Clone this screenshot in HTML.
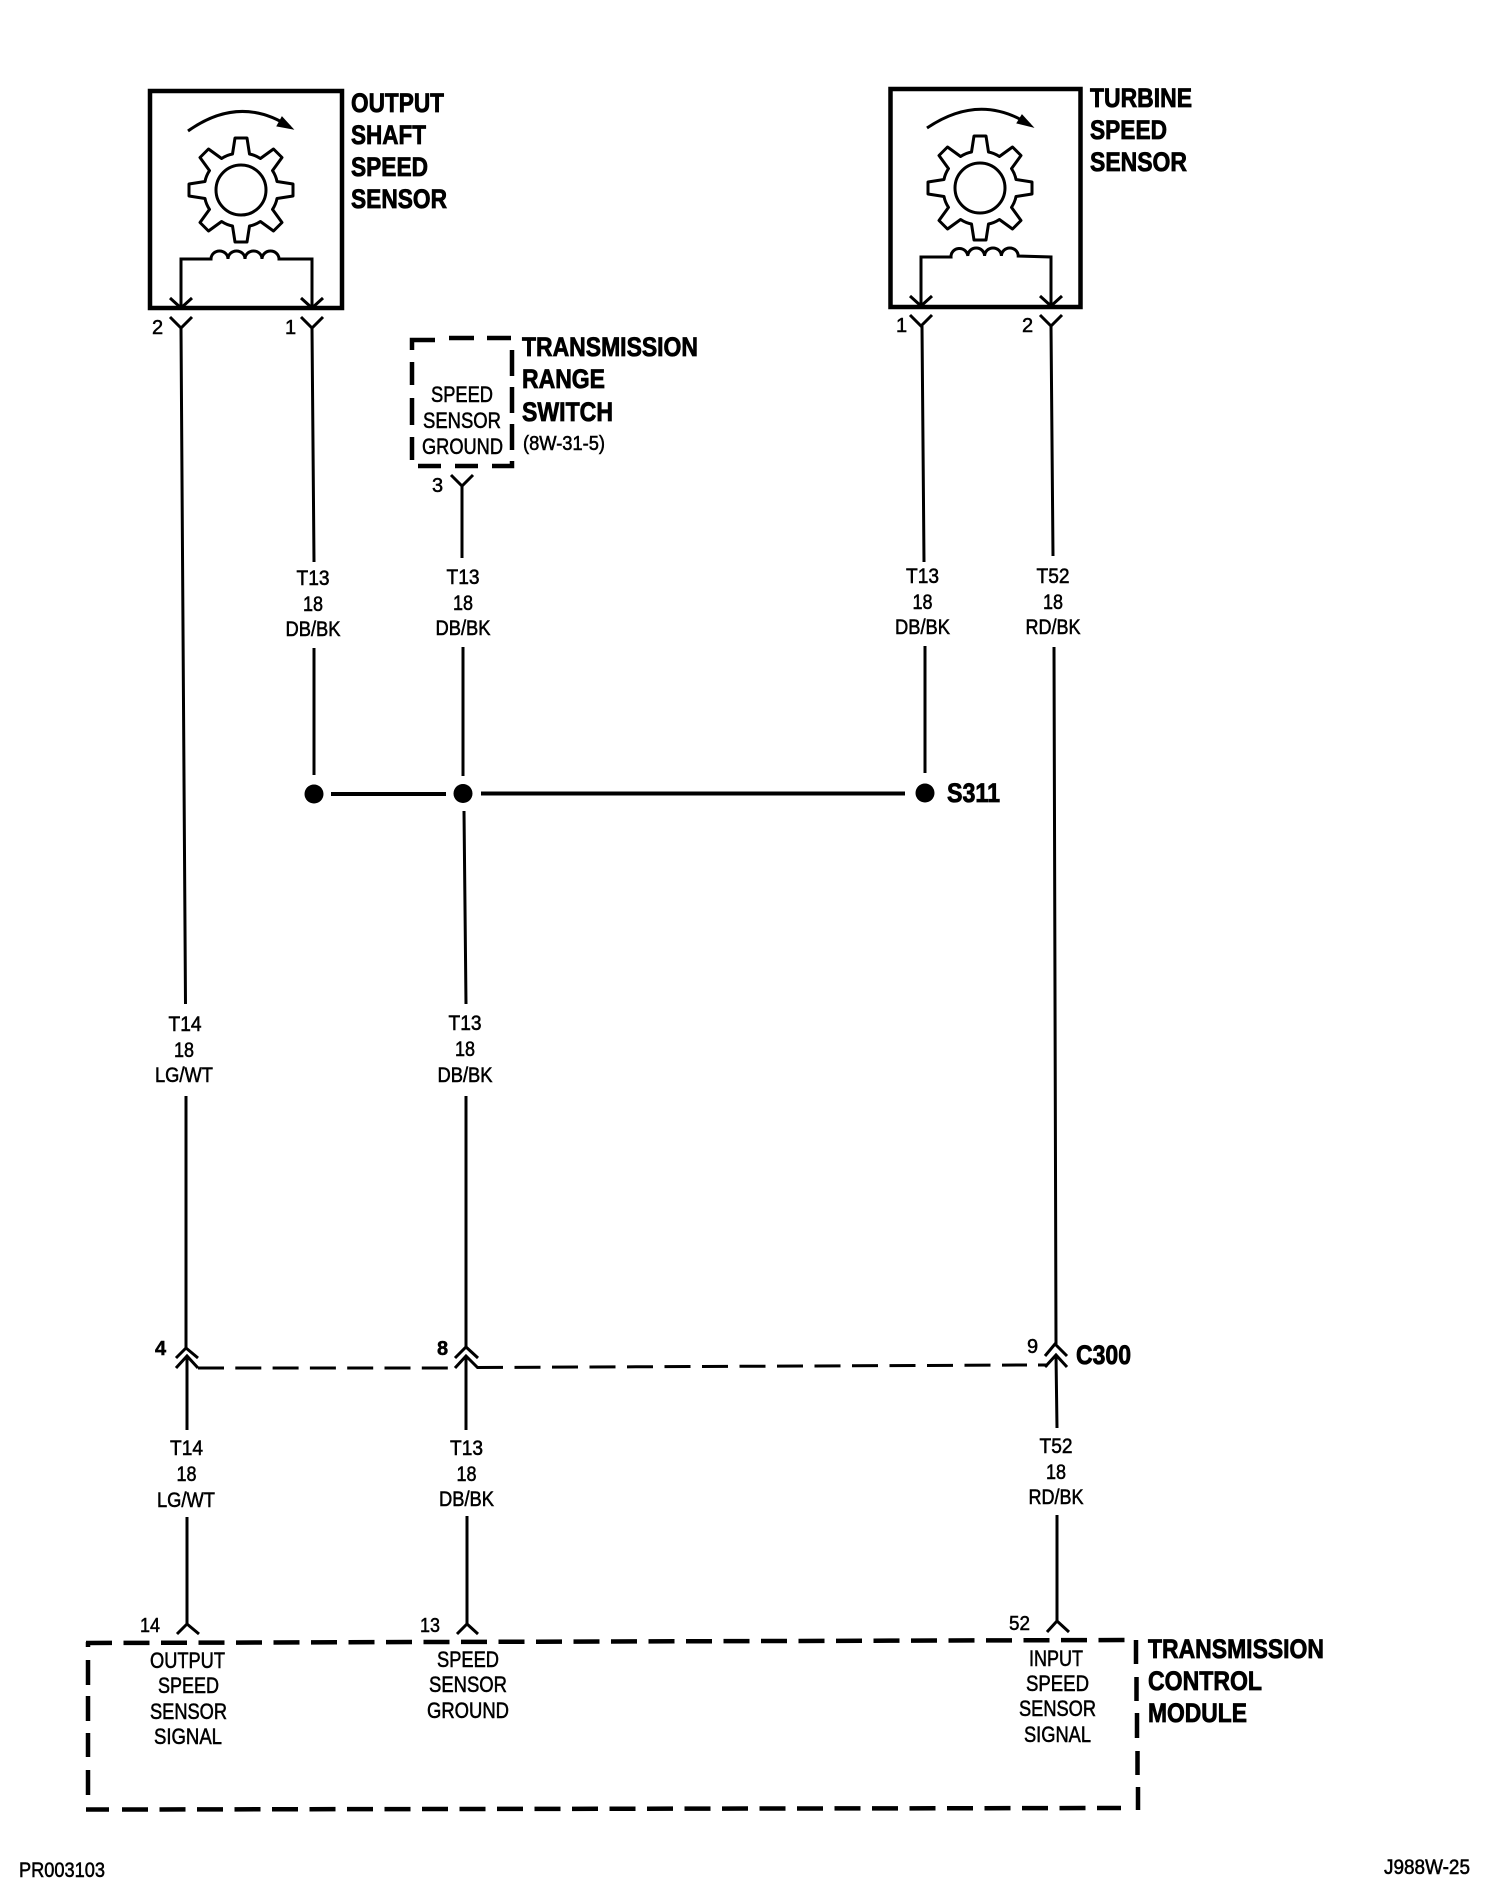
<!DOCTYPE html>
<html><head><meta charset="utf-8"><title>Speed sensor wiring</title>
<style>
html,body{margin:0;padding:0;background:#fff;width:1504px;height:1898px;overflow:hidden}
svg{display:block}
text{font-family:"Liberation Sans",sans-serif;fill:#000}
.r{font-size:22px;stroke:#000;stroke-width:.55px}
.w{font-size:21px;stroke:#000;stroke-width:.55px}
.b{font-size:27px;font-weight:bold;stroke:#000;stroke-width:.8px}
.n{font-size:20px;stroke:#000;stroke-width:.5px}
.l{fill:none;stroke:#000;stroke-width:3}
.d{fill:none;stroke:#000;stroke-width:4.5}
</style></head><body>
<svg width="1504" height="1898" viewBox="0 0 1504 1898" xmlns="http://www.w3.org/2000/svg">
<rect width="1504" height="1898" fill="#fff"/>
<defs>
<g id="gear">
<path fill="none" stroke="#000" stroke-width="3" stroke-linejoin="round" d="M-8.5,-36 L-6,-52 L6,-52 L8.5,-36 Q14,-35 19.4,-31.5 L32.5,-41 L41,-32.5 L31.5,-19.4 Q35,-14 36,-8.5 L52,-6 L52,6 L36,8.5 Q35,14 31.5,19.4 L41,32.5 L32.5,41 L19.4,31.5 Q14,35 8.5,36 L6,52 L-6,52 L-8.5,36 Q-14,35 -19.4,31.5 L-32.5,41 L-41,32.5 L-31.5,19.4 Q-35,14 -36,8.5 L-52,6 L-52,-6 L-36,-8.5 Q-35,-14 -31.5,-19.4 L-41,-32.5 L-32.5,-41 L-19.4,-31.5 Q-14,-35 -8.5,-36 Z"/>
<circle r="25" fill="none" stroke="#000" stroke-width="3"/>
</g>
</defs>

<!-- Output shaft speed sensor -->
<rect x="150" y="91" width="192" height="217" fill="none" stroke="#000" stroke-width="4.5"/>
<use href="#gear" x="241" y="190"/>
<path class="l" d="M188,131 Q240,94 290,127"/>
<path d="M293,129 L282,117 L277,126 Z" fill="#000" stroke="#000"/>
<path class="l" d="M181,308 V259 H211 a8.5,8 0 0 1 17,0 a8.5,8 0 0 1 17,0 a8.5,8 0 0 1 17,0 a8.5,8 0 0 1 17,0 H312 V308"/>
<path class="l" d="M170,298 L181,308 L192,298 M301,298 L312,308 L323,298 M170,317 L181,328 L192,317 M301,317 L312,328 L323,317"/>
<text class="n" x="152" y="334">2</text>
<text class="n" x="285" y="334">1</text>
<text class="b" x="351" y="112" textLength="93" lengthAdjust="spacingAndGlyphs">OUTPUT</text>
<text class="b" x="351" y="144" textLength="75" lengthAdjust="spacingAndGlyphs">SHAFT</text>
<text class="b" x="351" y="176" textLength="77" lengthAdjust="spacingAndGlyphs">SPEED</text>
<text class="b" x="351" y="208" textLength="96" lengthAdjust="spacingAndGlyphs">SENSOR</text>

<!-- Turbine speed sensor -->
<rect x="890.500" y="89" width="190" height="218" fill="none" stroke="#000" stroke-width="4.5"/>
<use href="#gear" x="980" y="188"/>
<path class="l" d="M927,128 Q980,92 1030,125"/>
<path d="M1033,127 L1022,115 L1017,123 Z" fill="#000" stroke="#000"/>
<path class="l" d="M921,306 V257 H951 a8.4,8 0 0 1 16.8,-1 a8.4,8 0 0 1 16.8,0 a8.4,8 0 0 1 16.8,0 a8.4,8 0 0 1 16.8,0 L1051,257 V306"/>
<path class="l" d="M910,296 L921,306 L932,296 M1040,296 L1051,306 L1062,296 M910,315 L921,326 L932,315 M1040,315 L1051,326 L1062,315"/>
<text class="n" x="896" y="332">1</text>
<text class="n" x="1022" y="332">2</text>
<text class="b" x="1090" y="107" textLength="102" lengthAdjust="spacingAndGlyphs">TURBINE</text>
<text class="b" x="1090" y="139" textLength="77" lengthAdjust="spacingAndGlyphs">SPEED</text>
<text class="b" x="1090" y="171" textLength="97" lengthAdjust="spacingAndGlyphs">SENSOR</text>

<!-- Transmission range switch -->
<path class="d" d="M412,350 V340 H435 M449,338 H474 M487,338 H511 M512,350 V376 M512,387 V413 M512,424 V450 M512,461 V466 H492 M478,466 H455 M441,466 H418 M412,362 V385 M412,398 V425 M412,437 V460"/>
<text class="r" x="431" y="402" textLength="62" lengthAdjust="spacingAndGlyphs">SPEED</text>
<text class="r" x="423" y="428" textLength="78" lengthAdjust="spacingAndGlyphs">SENSOR</text>
<text class="r" x="422" y="454" textLength="81" lengthAdjust="spacingAndGlyphs">GROUND</text>
<text class="b" x="522" y="356" textLength="176" lengthAdjust="spacingAndGlyphs">TRANSMISSION</text>
<text class="b" x="522" y="388" textLength="83" lengthAdjust="spacingAndGlyphs">RANGE</text>
<text class="b" x="522" y="421" textLength="91" lengthAdjust="spacingAndGlyphs">SWITCH</text>
<text class="r" x="523" y="450" style="font-size:20px" textLength="82" lengthAdjust="spacingAndGlyphs">(8W-31-5)</text>
<path class="l" d="M451,475 L462,486 L473,475"/>
<text class="n" x="432" y="492">3</text>

<!-- Wires -->
<path class="l" d="M181,328 L185.500,1004 M186,1096 L186,1348"/>
<path class="l" d="M312,328 L314,562 M314,648 V775"/>
<path class="l" d="M462,486 V558 M463,647 V776 M464,811 L466,1004 M466,1096 V1347"/>
<path class="l" d="M922,326 L924,562 M925,646 V773"/>
<path class="l" d="M1051,326 L1053,556 M1054,647 L1056,1344"/>
<path class="l" d="M187,1356 V1430 M187,1517 V1624 M466,1356 V1430 M467,1516 V1624 M1056,1355 L1057,1428 M1057,1515 V1621"/>

<!-- Splice -->
<circle cx="314" cy="794" r="9.500"/><circle cx="463" cy="793.500" r="9.500"/><circle cx="925" cy="793" r="9.500"/>
<path d="M331,794 H446 M481,793.500 H905" fill="none" stroke="#000" stroke-width="4"/>
<text class="b" x="947" y="802" textLength="53" lengthAdjust="spacingAndGlyphs">S311</text>

<!-- Wire labels -->
<g class="w" text-anchor="middle">
<text x="313" y="585" textLength="33" lengthAdjust="spacingAndGlyphs">T13</text>
<text x="313" y="611" textLength="20" lengthAdjust="spacingAndGlyphs">18</text>
<text x="313" y="636" textLength="55" lengthAdjust="spacingAndGlyphs">DB/BK</text>
<text x="463" y="584" textLength="33" lengthAdjust="spacingAndGlyphs">T13</text>
<text x="463" y="610" textLength="20" lengthAdjust="spacingAndGlyphs">18</text>
<text x="463" y="635" textLength="55" lengthAdjust="spacingAndGlyphs">DB/BK</text>
<text x="922.500" y="583" textLength="33" lengthAdjust="spacingAndGlyphs">T13</text>
<text x="922.500" y="609" textLength="20" lengthAdjust="spacingAndGlyphs">18</text>
<text x="922.500" y="634" textLength="55" lengthAdjust="spacingAndGlyphs">DB/BK</text>
<text x="1053" y="583" textLength="33" lengthAdjust="spacingAndGlyphs">T52</text>
<text x="1053" y="609" textLength="20" lengthAdjust="spacingAndGlyphs">18</text>
<text x="1053" y="634" textLength="55" lengthAdjust="spacingAndGlyphs">RD/BK</text>
<text x="185" y="1031" textLength="33" lengthAdjust="spacingAndGlyphs">T14</text>
<text x="184" y="1057" textLength="20" lengthAdjust="spacingAndGlyphs">18</text>
<text x="184" y="1082" textLength="58" lengthAdjust="spacingAndGlyphs">LG/WT</text>
<text x="465" y="1030" textLength="33" lengthAdjust="spacingAndGlyphs">T13</text>
<text x="465" y="1056" textLength="20" lengthAdjust="spacingAndGlyphs">18</text>
<text x="465" y="1082" textLength="55" lengthAdjust="spacingAndGlyphs">DB/BK</text>
<text x="186.500" y="1455" textLength="33" lengthAdjust="spacingAndGlyphs">T14</text>
<text x="186.500" y="1481" textLength="20" lengthAdjust="spacingAndGlyphs">18</text>
<text x="186" y="1507" textLength="58" lengthAdjust="spacingAndGlyphs">LG/WT</text>
<text x="466.500" y="1455" textLength="33" lengthAdjust="spacingAndGlyphs">T13</text>
<text x="466.500" y="1481" textLength="20" lengthAdjust="spacingAndGlyphs">18</text>
<text x="466.500" y="1506" textLength="55" lengthAdjust="spacingAndGlyphs">DB/BK</text>
<text x="1056" y="1453" textLength="33" lengthAdjust="spacingAndGlyphs">T52</text>
<text x="1056" y="1479" textLength="20" lengthAdjust="spacingAndGlyphs">18</text>
<text x="1056" y="1504" textLength="55" lengthAdjust="spacingAndGlyphs">RD/BK</text>
</g>

<!-- C300 -->
<path class="l" d="M176,1358 L186,1348 L198,1358 M176,1368 L187,1356 L198,1368"/>
<path class="l" d="M455,1358 L466,1347 L478,1358 M455,1368 L466,1356 L478,1368"/>
<path class="l" d="M1045,1356 L1055,1344 L1067,1356 M1045,1367 L1056,1355 L1067,1367"/>
<path class="l" d="M198,1368 H448" stroke-dasharray="26 11.300"/>
<path class="l" d="M477,1367.500 L1027,1365" stroke-dasharray="26 11.500"/>
<path class="l" d="M1038,1365 H1048"/>
<text class="n" x="155" y="1355" style="font-weight:bold">4</text>
<text class="n" x="437" y="1355" style="font-weight:bold">8</text>
<text class="n" x="1027" y="1353">9</text>
<text class="b" x="1076" y="1364" textLength="55" lengthAdjust="spacingAndGlyphs">C300</text>

<!-- TCM -->
<path class="l" d="M177,1634 L187,1624 L199,1634 M457,1634 L467,1624 L478,1634 M1047,1632 L1057,1621 L1069,1632"/>
<text class="n" x="140" y="1632" textLength="20" lengthAdjust="spacingAndGlyphs">14</text>
<text class="n" x="420" y="1632" textLength="20" lengthAdjust="spacingAndGlyphs">13</text>
<text class="n" x="1009" y="1630" textLength="21" lengthAdjust="spacingAndGlyphs">52</text>
<path class="d" d="M86,1643 L1125,1640" stroke-dasharray="26 11.500"/>
<path class="d" d="M88,1642 V1647 M88,1660 V1685 M88,1696 V1721 M88,1733 V1757 M88,1770 V1795"/>
<path class="d" d="M86,1809.500 H109"/>
<path class="d" d="M122,1809.500 L1121,1808" stroke-dasharray="26 11.500"/>
<path class="d" d="M1136,1640 V1664 M1136.500,1677 V1701 M1137,1713 V1738 M1137.500,1751 V1775 M1138,1787 V1810"/>
<text class="r" x="150" y="1668" textLength="75" lengthAdjust="spacingAndGlyphs">OUTPUT</text>
<text class="r" x="158" y="1693" textLength="61" lengthAdjust="spacingAndGlyphs">SPEED</text>
<text class="r" x="150" y="1719" textLength="77" lengthAdjust="spacingAndGlyphs">SENSOR</text>
<text class="r" x="154" y="1744" textLength="68" lengthAdjust="spacingAndGlyphs">SIGNAL</text>
<text class="r" x="437" y="1667" textLength="62" lengthAdjust="spacingAndGlyphs">SPEED</text>
<text class="r" x="429" y="1692" textLength="78" lengthAdjust="spacingAndGlyphs">SENSOR</text>
<text class="r" x="427" y="1718" textLength="82" lengthAdjust="spacingAndGlyphs">GROUND</text>
<text class="r" x="1029" y="1666" textLength="54" lengthAdjust="spacingAndGlyphs">INPUT</text>
<text class="r" x="1026" y="1691" textLength="63" lengthAdjust="spacingAndGlyphs">SPEED</text>
<text class="r" x="1019" y="1716" textLength="77" lengthAdjust="spacingAndGlyphs">SENSOR</text>
<text class="r" x="1024" y="1742" textLength="67" lengthAdjust="spacingAndGlyphs">SIGNAL</text>
<text class="b" x="1148" y="1658" textLength="176" lengthAdjust="spacingAndGlyphs">TRANSMISSION</text>
<text class="b" x="1148" y="1690" textLength="114" lengthAdjust="spacingAndGlyphs">CONTROL</text>
<text class="b" x="1148" y="1722" textLength="99" lengthAdjust="spacingAndGlyphs">MODULE</text>

<text class="w" x="19" y="1877" textLength="86" lengthAdjust="spacingAndGlyphs">PR003103</text>
<text class="w" x="1384" y="1874" textLength="86" lengthAdjust="spacingAndGlyphs">J988W-25</text>
</svg>
</body></html>
